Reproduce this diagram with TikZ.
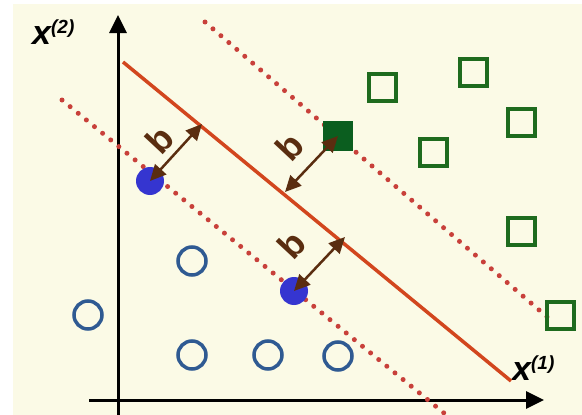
\documentclass[tikz,border=0pt]{standalone}
\usepackage{fontspec}
\newfontfamily\lab{Liberation Sans}
\usetikzlibrary{arrows.meta}
\definecolor{cream}{HTML}{FBFAE6}
\definecolor{dotblue}{HTML}{3535D0}
\definecolor{ringblue}{HTML}{2F5A92}
\definecolor{sqgreen}{HTML}{1E6B1E}
\definecolor{sqfill}{HTML}{0B5E1F}
\definecolor{sepred}{HTML}{D2461E}
\definecolor{dotred}{HTML}{C8403A}
\definecolor{brown}{HTML}{5A2D10}
\tikzset{
  axisline/.style={line width=3pt, black, -{Triangle[length=18pt,width=17pt]}},
  sepline/.style={line width=3.5pt, sepred},
  marginline/.style={line width=5pt, dotred, line cap=round, dash pattern=on 0pt off 10.5pt},
  opencirc/.style={circle, draw=ringblue, line width=3.5pt, minimum size=28pt, inner sep=0pt},
  bluedot/.style={circle, fill=dotblue, minimum size=28pt, inner sep=0pt},
  opensq/.style={rectangle, draw=sqgreen, line width=4pt, minimum size=27pt, inner sep=0pt},
  fillsq/.style={rectangle, fill=sqfill, minimum size=30pt, inner sep=0pt},
  barrow/.style={line width=2.5pt, brown, {Triangle[length=16pt,width=15pt]}-{Triangle[length=16pt,width=15pt]}},
  blab/.style={text=brown, font=\lab\bfseries\fontsize{36}{36}\selectfont, inner sep=0pt, rotate=47},
  axlab/.style={font=\lab\bfseries\itshape, inner sep=0pt, anchor=base west}
}
\begin{document}
\begin{tikzpicture}[x=1pt,y=-1pt]
\useasboundingbox (0,0) rectangle (582,415);
\fill[white] (0,0) rectangle (582,415);
\fill[cream] (13,4) rectangle (582,415);
% axes
\coordinate (ys) at (118,415);
\coordinate (ye) at (118,15);
\coordinate (xs) at (89,400);
\coordinate (xe) at (544,400);
\draw[axisline] (ys) -- (ye);
\draw[axisline] (xs) -- (xe);
\node[axlab] (lx2) at (32,45) {\fontsize{34}{34}\selectfont x\raisebox{11pt}{\fontsize{19}{19}\selectfont (2)}};
\node[axlab] (lx1) at (512,380) {\fontsize{34}{34}\selectfont x\raisebox{11pt}{\fontsize{19}{19}\selectfont (1)}};
% separating line and margins
\coordinate (s1) at (123,62);
\coordinate (s2) at (511,381);
\coordinate (u1) at (205,22);
\coordinate (u2) at (553,322);
\coordinate (l1) at (62,100);
\coordinate (l2) at (450,418);
\draw[sepline] (s1) -- (s2);
\draw[marginline] (u1) -- (u2);
\draw[marginline] (l1) -- (l2);
% class -1
\node[opencirc] (c1) at (88,315) {};
\node[opencirc] (c2) at (192,261) {};
\node[opencirc] (c3) at (192,355) {};
\node[opencirc] (c4) at (268,355) {};
\node[opencirc] (c5) at (338,356) {};
\node[bluedot] (v1) at (150,181) {};
\node[bluedot] (v2) at (294,291) {};
% class +1
\node[opensq] (q1) at (382,87) {};
\node[opensq] (q2) at (473,72) {};
\node[opensq] (q3) at (433,152) {};
\node[opensq] (q4) at (521,122) {};
\node[opensq] (q5) at (521,231) {};
\node[opensq] (q6) at (560,315) {};
\node[fillsq] (vs) at (338,136) {};
% margin arrows
\coordinate (t1) at (202,124);
\coordinate (t2) at (285,192);
\coordinate (t3) at (345,237);
\draw[barrow] (v1.center) -- (t1);
\draw[barrow] (vs.center) -- (t2);
\draw[barrow] (v2.center) -- (t3);
\node[blab] (b1) at (160,140) {b};
\node[blab] (b2) at (290,147) {b};
\node[blab] (b3) at (292,245) {b};
\end{tikzpicture}
\end{document}
